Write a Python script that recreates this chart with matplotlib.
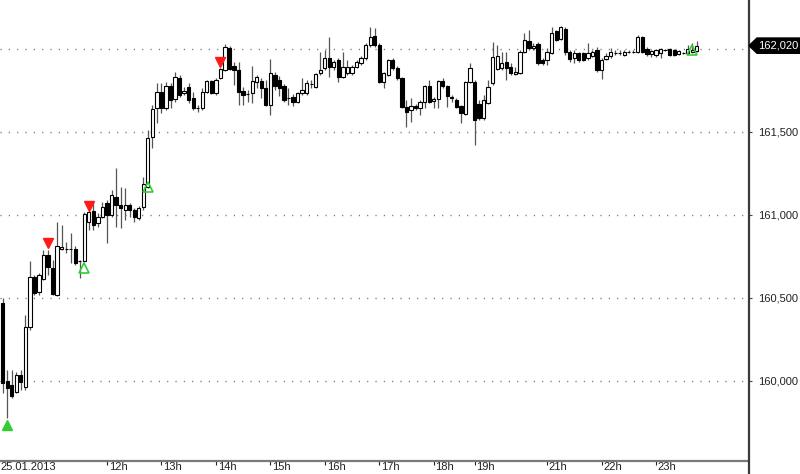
import matplotlib
matplotlib.use("Agg")
import matplotlib.pyplot as plt
from matplotlib.patches import Rectangle, Polygon
from matplotlib.lines import Line2D
import matplotlib.transforms as mtransforms

plt.rcParams['font.family'] = ['Liberation Sans', 'DejaVu Sans']

# ---- data: 5-minute candles, 25.01.2013 ----
opens = [160.470, 160.000, 159.976, 159.934, 160.036, 159.964, 160.325, 160.626, 160.536, 160.614,
         160.759, 160.681, 160.518, 160.795, 160.795, 160.795, 160.795, 160.723, 160.723, 160.958,
         161.024, 160.952, 160.988, 161.072, 161.000, 161.108, 161.060, 161.030, 161.060, 161.030,
         160.982, 161.048, 161.169, 161.470, 161.644, 161.741, 161.644, 161.777, 161.699, 161.825,
         161.735, 161.771, 161.705, 161.644, 161.644, 161.741, 161.807, 161.735, 161.825, 161.873,
         162.006, 161.897, 161.873, 161.747, 161.729, 161.735, 161.801, 161.807, 161.765, 161.663,
         161.843, 161.813, 161.777, 161.705, 161.711, 161.681, 161.735, 161.735, 161.789, 161.771,
         161.855, 161.885, 161.946, 161.891, 161.934, 161.831, 161.855, 161.855, 161.891, 161.916,
         161.946, 162.024, 162.078, 162.024, 161.801, 161.843, 161.934, 161.885, 161.825, 161.650,
         161.632, 161.656, 161.644, 161.681, 161.777, 161.687, 161.699, 161.807, 161.777, 161.711,
         161.693, 161.656, 161.608, 161.801, 161.801, 161.669, 161.584, 161.675, 161.795, 161.879,
         161.885, 161.922, 161.891, 161.849, 161.855, 161.982, 162.048, 162.006, 162.030, 161.934,
         161.934, 161.976, 162.108, 162.060, 162.120, 161.982, 161.946, 161.976, 161.976, 161.946,
         161.958, 161.994, 161.873, 161.940, 161.958, 161.976, 161.976, 161.964, 161.982, 161.982,
         161.982, 162.072, 162.000, 161.970, 161.964, 161.976, 161.994, 162.000, 161.994, 161.970,
         161.976, 161.976, 161.982, 161.988]
highs = [160.500, 160.066, 160.066, 160.054, 160.066, 160.398, 160.723, 160.638, 160.650, 160.789,
         160.789, 160.729, 160.958, 160.940, 160.837, 160.891, 160.813, 160.729, 161.018, 161.030,
         161.072, 161.012, 161.078, 161.090, 161.151, 161.283, 161.169, 161.163, 161.072, 161.042,
         161.054, 161.229, 161.512, 161.663, 161.795, 161.795, 161.801, 161.795, 161.861, 161.843,
         161.771, 161.795, 161.741, 161.663, 161.765, 161.813, 161.813, 161.825, 161.885, 162.030,
         162.018, 161.922, 161.922, 161.771, 161.753, 161.897, 161.843, 161.825, 161.813, 161.940,
         161.861, 161.837, 161.789, 161.765, 161.729, 161.741, 161.825, 161.813, 161.813, 161.855,
         161.982, 161.994, 162.072, 161.934, 161.946, 161.982, 161.934, 161.904, 161.934, 161.958,
         162.036, 162.132, 162.126, 162.036, 161.861, 161.940, 161.946, 161.897, 161.831, 161.693,
         161.705, 161.669, 161.693, 161.783, 161.813, 161.711, 161.813, 161.825, 161.783, 161.723,
         161.705, 161.663, 161.807, 161.916, 161.813, 161.693, 161.723, 161.813, 162.042, 162.024,
         161.982, 161.982, 161.916, 161.891, 161.994, 162.096, 162.114, 162.036, 162.042, 161.946,
         162.006, 162.132, 162.114, 162.138, 162.132, 161.994, 161.994, 161.982, 161.982, 162.036,
         161.994, 162.012, 161.946, 161.976, 162.006, 161.994, 161.994, 161.994, 161.994, 161.994,
         162.084, 162.078, 162.012, 161.994, 162.000, 162.006, 162.000, 162.006, 162.000, 161.994,
         161.982, 162.024, 162.036, 162.048]
lows = [159.928, 159.777, 159.898, 159.928, 159.946, 159.946, 160.307, 160.518, 160.518, 160.608,
        160.638, 160.518, 160.512, 160.789, 160.771, 160.711, 160.699, 160.620, 160.717, 160.910,
        160.910, 160.928, 160.982, 160.831, 160.988, 160.928, 160.922, 160.970, 160.988, 160.958,
        160.970, 161.030, 161.163, 161.404, 161.554, 161.614, 161.632, 161.644, 161.681, 161.711,
        161.723, 161.675, 161.632, 161.620, 161.632, 161.735, 161.729, 161.723, 161.819, 161.867,
        161.873, 161.783, 161.663, 161.663, 161.681, 161.675, 161.765, 161.705, 161.657, 161.602,
        161.753, 161.717, 161.681, 161.663, 161.656, 161.675, 161.723, 161.723, 161.765, 161.765,
        161.843, 161.873, 161.831, 161.873, 161.801, 161.825, 161.843, 161.843, 161.885, 161.904,
        161.934, 162.012, 162.012, 161.795, 161.765, 161.837, 161.873, 161.813, 161.644, 161.530,
        161.560, 161.632, 161.602, 161.644, 161.675, 161.644, 161.644, 161.765, 161.650, 161.681,
        161.644, 161.554, 161.602, 161.795, 161.422, 161.572, 161.572, 161.669, 161.783, 161.873,
        161.873, 161.813, 161.843, 161.843, 161.849, 161.976, 161.994, 161.994, 161.904, 161.904,
        161.904, 161.970, 162.048, 162.054, 161.964, 161.922, 161.916, 161.922, 161.928, 161.934,
        161.952, 161.861, 161.819, 161.934, 161.946, 161.964, 161.964, 161.958, 161.976, 161.976,
        161.976, 161.976, 161.958, 161.952, 161.952, 161.946, 161.988, 161.958, 161.958, 161.964,
        161.970, 161.970, 161.976, 161.982]
closes = [159.988, 159.958, 159.910, 160.036, 159.994, 160.325, 160.626, 160.530, 160.638, 160.759,
          160.687, 160.524, 160.813, 160.807, 160.797, 160.795, 160.711, 160.723, 161.006, 161.018,
          160.940, 160.988, 161.048, 161.000, 161.120, 161.060, 161.042, 161.060, 161.030, 160.988,
          161.042, 161.187, 161.464, 161.638, 161.741, 161.644, 161.777, 161.693, 161.831, 161.723,
          161.747, 161.693, 161.644, 161.646, 161.741, 161.807, 161.735, 161.813, 161.879, 162.012,
          161.879, 161.873, 161.741, 161.723, 161.731, 161.807, 161.831, 161.765, 161.663, 161.855,
          161.777, 161.765, 161.693, 161.707, 161.681, 161.735, 161.753, 161.795, 161.791, 161.849,
          161.873, 161.946, 161.891, 161.922, 161.831, 161.891, 161.891, 161.891, 161.922, 161.946,
          162.024, 162.072, 162.024, 161.801, 161.855, 161.934, 161.885, 161.825, 161.650, 161.620,
          161.656, 161.644, 161.681, 161.777, 161.681, 161.699, 161.807, 161.777, 161.717, 161.705,
          161.650, 161.614, 161.801, 161.885, 161.572, 161.584, 161.693, 161.771, 161.952, 161.958,
          161.916, 161.885, 161.855, 161.861, 161.982, 162.054, 162.006, 162.018, 161.916, 161.916,
          161.982, 162.096, 162.054, 162.132, 161.982, 161.940, 161.976, 161.934, 161.934, 161.976,
          161.982, 161.873, 161.934, 161.958, 161.982, 161.978, 161.978, 161.982, 161.984, 161.984,
          162.072, 161.982, 161.970, 161.988, 161.994, 162.000, 161.996, 161.964, 161.964, 161.988,
          161.978, 162.000, 161.994, 162.020]

# signal markers (candle index, price)
sell_idx = [10, 19, 48]
sell_price = [160.831, 161.054, 161.922]
buy_idx = [1]
buy_price = [159.735]
buy_open_idx = [18, 32, 152]
buy_open_price = [160.681, 161.169, 161.994]

hour_idx = [23, 35, 47, 59, 71, 83, 95, 104, 120, 132, 144]
hour_labels = ['12h', '13h', '14h', '15h', '16h', '17h', '18h', '19h', '21h', '22h', '23h']
date_label = '25.01.2013'

grid_levels = [160.0, 160.5, 161.0, 161.5, 162.0]
ytick_vals = [160.0, 160.5, 161.0, 161.5]

# ---- figure ----
W, H = 800, 474
fig = plt.figure(figsize=(W / 100, H / 100), dpi=100)
ax = fig.add_axes([0, 13 / H, 748 / W, 1 - 13 / H])

n = len(opens)
ax.set_xlim(-0.584, 164.28)
ax.set_ylim(159.518, 162.295)

# grid
for g in grid_levels:
    ax.axhline(g, color='#707070', lw=1.0, dashes=(0.8, 5.2), zorder=0)

# candles
bw = 0.72
for i in range(n):
    o, h, l, c = opens[i], highs[i], lows[i], closes[i]
    ax.vlines(i, l, h, color='#555555', lw=0.9, zorder=2)
    bull = c >= o
    ax.add_patch(Rectangle((i - bw / 2, min(o, c)), bw, abs(c - o),
                           facecolor='white' if bull else 'black',
                           edgecolor='black', lw=0.8, zorder=3))

# markers
ax.plot(sell_idx, sell_price, linestyle='none', marker='v', markersize=7.5,
        color='#ff1a1a', markeredgecolor='#ff1a1a', zorder=5)
ax.plot(buy_idx, buy_price, linestyle='none', marker='^', markersize=7.5,
        color='#33cc33', markeredgecolor='#33cc33', zorder=5)
ax.plot(buy_open_idx, buy_open_price, linestyle='none', marker='^', markersize=6.5,
        markerfacecolor='none', markeredgecolor='#33cc33', markeredgewidth=1.2, zorder=5)

# axes styling
for s in ['top', 'left', 'right']:
    ax.spines[s].set_visible(False)
ax.spines['bottom'].set_color('#7a7a7a')
ax.spines['bottom'].set_linewidth(1.6)

ax.yaxis.tick_right()
ax.set_yticks(ytick_vals)
ax.set_yticklabels([f"{v:,.3f}".replace('.', ',') for v in ytick_vals])
ax.tick_params(axis='y', direction='out', length=3, width=0.8, color='#444444',
               labelsize=8, labelcolor='#222222', pad=4)

ax.set_xticks(hour_idx)
ax.set_xticklabels([''] * len(hour_idx))
ax.tick_params(axis='x', direction='out', length=3, width=0.8, color='#222222', pad=0)

# hour labels
tr_x = mtransforms.blended_transform_factory(ax.transData, fig.transFigure)
for xi, lab in zip(hour_idx, hour_labels):
    fig.text(xi + 0.4, 6.5 / H, lab, transform=tr_x, ha='left', va='center',
             fontsize=8, color='#222222')
fig.text(0.5 / W, 6.5 / H, date_label, ha='left', va='center', fontsize=8, color='#222222')

# right vertical axis line across full height
fig.add_artist(Line2D([748.5 / W, 748.5 / W], [0, 1], transform=fig.transFigure,
                      color='#3a3a3a', lw=1.6))

# current price box
last = closes[-1]
tr_y = mtransforms.blended_transform_factory(fig.transFigure, ax.transData)
hh = 0.046
poly = Polygon([(749 / W, last), (757 / W, last + hh), (1.0, last + hh),
                (1.0, last - hh), (757 / W, last - hh)], closed=True,
               transform=tr_y, facecolor='black', edgecolor='black', zorder=10)
fig.add_artist(poly)
fig.text(778 / W, last, f"{last:,.3f}".replace('.', ','), transform=tr_y,
         ha='center', va='center', fontsize=8, color='white', zorder=11)

fig.savefig('out.png', dpi=100)
